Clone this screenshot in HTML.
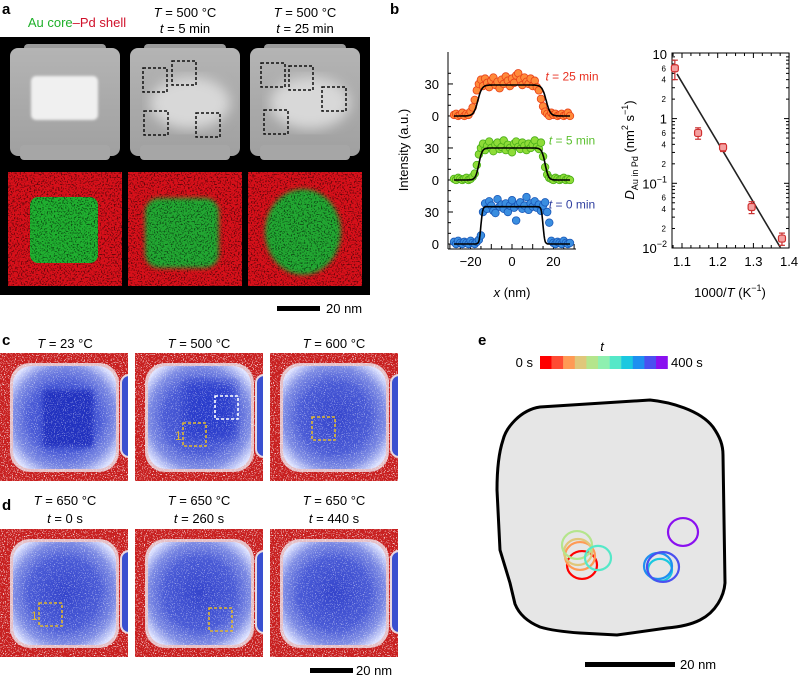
<!DOCTYPE html>
<html><head><meta charset="utf-8"><style>
html,body{margin:0;padding:0;background:#fff;}
svg{display:block;font-family:"Liberation Sans",Arial,sans-serif;}
</style></head><body>
<svg id="fig" width="798" height="676" viewBox="0 0 798 676" xmlns="http://www.w3.org/2000/svg">
<defs>
<filter id="speckW" x="0" y="0" width="1" height="1"><feTurbulence type="fractalNoise" baseFrequency="0.9" numOctaves="1" seed="3"/><feColorMatrix type="matrix" values="0 0 0 0 1 0 0 0 0 1 0 0 0 0 1 9 0 0 0 -5.2"/></filter>
<filter id="speckK" x="0" y="0" width="1" height="1"><feTurbulence type="fractalNoise" baseFrequency="0.7" numOctaves="1" seed="7"/><feColorMatrix type="matrix" values="0 0 0 0 0 0 0 0 0 0 0 0 0 0 0 7 0 0 0 -3.6"/></filter>
<filter id="blur2"><feGaussianBlur stdDeviation="2.5"/></filter>
<filter id="blur1"><feGaussianBlur stdDeviation="1.2"/></filter>
<filter id="blur5"><feGaussianBlur stdDeviation="6"/></filter>
<radialGradient id="blueg" cx="0.5" cy="0.5" r="0.62"><stop offset="0" stop-color="#3444cc"/><stop offset="0.55" stop-color="#4a5bd6"/><stop offset="0.8" stop-color="#7e8ce4"/><stop offset="1" stop-color="#dde2ff"/></radialGradient>
<linearGradient id="grayg" x1="0" y1="0" x2="0" y2="1"><stop offset="0" stop-color="#b4b4b4"/><stop offset="1" stop-color="#a0a0a0"/></linearGradient>
</defs>

<!-- Panel a -->
<g>
<text x="2" y="14" font-size="15" font-weight="bold">a</text>
<text x="77" y="27" font-size="13" text-anchor="middle"><tspan fill="#1fb02a">Au core</tspan><tspan fill="#d0102a">–Pd shell</tspan></text>
<text x="185" y="17" font-size="13" text-anchor="middle"><tspan font-style="italic">T</tspan> = 500 °C</text>
<text x="185" y="33" font-size="13" text-anchor="middle"><tspan font-style="italic">t</tspan> = 5 min</text>
<text x="305" y="17" font-size="13" text-anchor="middle"><tspan font-style="italic">T</tspan> = 500 °C</text>
<text x="305" y="33" font-size="13" text-anchor="middle"><tspan font-style="italic">t</tspan> = 25 min</text>
<rect x="0" y="37" width="370" height="258" fill="#000"/>
<g id="agray"></g>
<g id="amap"></g>
<rect x="277" y="306" width="43" height="5" fill="#000"/>
<text x="326" y="313" font-size="13">20 nm</text>
</g>

<!-- Panel b -->
<g>
<text x="390" y="14" font-size="15" font-weight="bold">b</text>
<g id="profiles"></g>
<g id="arrh"></g>
</g>

<!-- Panels c, d -->
<g>
<text x="2" y="345" font-size="15" font-weight="bold">c</text>
<text x="65" y="348" font-size="13" text-anchor="middle"><tspan font-style="italic">T</tspan> = 23 °C</text>
<text x="199" y="348" font-size="13" text-anchor="middle"><tspan font-style="italic">T</tspan> = 500 °C</text>
<text x="334" y="348" font-size="13" text-anchor="middle"><tspan font-style="italic">T</tspan> = 600 °C</text>
</g>
<g>
<text x="2" y="510" font-size="15" font-weight="bold">d</text>
<text x="65" y="505" font-size="13" text-anchor="middle"><tspan font-style="italic">T</tspan> = 650 °C</text>
<text x="65" y="523" font-size="13" text-anchor="middle"><tspan font-style="italic">t</tspan> = 0 s</text>
<text x="199" y="505" font-size="13" text-anchor="middle"><tspan font-style="italic">T</tspan> = 650 °C</text>
<text x="199" y="523" font-size="13" text-anchor="middle"><tspan font-style="italic">t</tspan> = 260 s</text>
<text x="334" y="505" font-size="13" text-anchor="middle"><tspan font-style="italic">T</tspan> = 650 °C</text>
<text x="334" y="523" font-size="13" text-anchor="middle"><tspan font-style="italic">t</tspan> = 440 s</text>
<rect x="310" y="668" width="43" height="5" fill="#000"/>
<text x="356" y="675" font-size="13">20 nm</text>
</g>
<g id="cdimgs"></g>

<!-- Panel e -->
<g>
<text x="478" y="345" font-size="15" font-weight="bold">e</text>
<text x="602" y="351" font-size="13" font-style="italic" text-anchor="middle">t</text>
<text x="533" y="367" font-size="13" text-anchor="end">0 s</text>
<text x="671" y="367" font-size="13">400 s</text>
<g id="cbar"></g>
<path d="M503,440 C506,428 520,410 540,407 L650,400 C670,402 700,410 713,427 C720,437 723,445 723,455 L725,583 C724,596 716,612 700,620 C690,625 680,627 667,628 L617,635 L580,633 C565,632 550,630 540,627 C528,622 519,614 515,604 L510,583 L500,550 L497,490 C497,470 499,452 503,440 Z" fill="#e6e6e6" stroke="#000" stroke-width="3"/>
<g id="loops"></g>
<rect x="585" y="662" width="90" height="5" fill="#000"/>
<text x="680" y="669" font-size="13">20 nm</text>
</g>
</svg>
<script>
const NS="http://www.w3.org/2000/svg";
function mk(tag,attrs,parent){const e=document.createElementNS(NS,tag);for(const k in attrs)e.setAttribute(k,attrs[k]);if(parent)parent.appendChild(e);return e;}

// ---------- Panel a images ----------
const agray=document.getElementById('agray');
const amap=document.getElementById('amap');
const aCols=[8,128,248];
aCols.forEach((x0,i)=>{
  const g=mk('g',{},agray);
  
  
  mk('rect',{x:x0+16,y:44,width:82,height:10,rx:4,fill:'#9a9a9a'},g);
  mk('rect',{x:x0+2,y:48,width:110,height:108,rx:8,fill:'url(#grayg)'},g);
  mk('rect',{x:x0+12,y:145,width:90,height:15,rx:4,fill:'#a6a6a6'},g);
  if(i===0){mk('rect',{x:x0+23,y:76,width:67,height:44,rx:5,fill:'#f0f0f0',filter:'url(#blur1)'},g);}
  else{mk('ellipse',{cx:x0+62,cy:103,rx:40,ry:26,fill:'#d8d8d8',filter:'url(#blur5)'},g);}
  const m=mk('g',{},amap);
  
  
  mk('rect',{x:x0,y:172,width:114,height:114,fill:'#d8101a'},m);
  if(i===0)mk('rect',{x:x0+22,y:197,width:68,height:66,rx:8,fill:'#20b030'},m);
  else if(i===1)mk('rect',{x:x0+17,y:198,width:74,height:70,rx:14,fill:'#20a830',filter:'url(#blur2)'},m);
  else mk('ellipse',{cx:x0+55,cy:232,rx:38,ry:43,fill:'#20a830',filter:'url(#blur2)'},m);
  mk('rect',{x:x0,y:172,width:114,height:114,fill:'#000',filter:'url(#speckK)',opacity:0.5},m);
});
const aBoxes=[[143,68],[172,61],[144,111],[196,113],[261,63],[289,66],[322,87],[264,110]];
aBoxes.forEach((b,i)=>{
  const r=mk('rect',{x:b[0],y:b[1],width:24,height:24,fill:'none',stroke:'#111','stroke-width':1.5,'stroke-dasharray':'3,2'},agray);
  
  
});

// ---------- Panel b profiles ----------
const profXStart=-28;
const blueVals=[2,0,3,1,0,2,1,0,3,1,0,2,4,8,30,38,33,40,36,31,29,42,35,37,33,38,30,36,41,34,22,37,39,33,36,44,32,38,35,40,34,37,31,36,39,30,20,3,1,0,2,1,0,3,1,0,1];
const greenVals=[1,0,2,1,0,1,2,0,1,3,6,14,24,30,34,28,32,36,30,27,33,35,29,31,37,28,33,30,26,34,36,31,29,35,32,28,34,30,33,37,31,29,35,22,12,5,2,1,0,2,1,0,1,2,0,1,0];
const redVals=[1,2,0,1,3,0,2,1,4,8,15,24,30,34,28,35,31,27,33,36,29,32,26,34,30,37,33,28,35,31,38,40,34,29,36,32,30,35,28,33,27,24,16,9,4,2,0,3,1,2,0,1,2,0,1,3,0];
const fitPlateaus=[35,30,29];
const fitHalfWidths=[15,16,16.5];
const fitEdgeWidths=[0.8,1.6,2.0];
const seriesOffsets=[0,60,120];
const seriesLabels=['t = 0 min','t = 5 min','t = 25 min'];
const yTickVals=[0,30];
const xTickVals=[-20,0,20];
const pX=v=>512+v*2.07;
const pY=v=>244-v*1.067;
const prof=document.getElementById('profiles');
mk('line',{x1:448,y1:52,x2:448,y2:249,stroke:'#000','stroke-width':1},prof);
mk('line',{x1:448,y1:249,x2:576,y2:249,stroke:'#000','stroke-width':1},prof);
for(let v=0;v<=165;v+=10){mk('line',{x1:448,x2:v%30===0?453:451,y1:pY(v),y2:pY(v),stroke:'#000'},prof);}
seriesOffsets.forEach(o=>yTickVals.forEach(v=>{
  const t=mk('text',{x:439,y:pY(v+o)+5,'font-size':13,'text-anchor':'end'},prof);
  t.textContent=v;
  
  
}));
for(let v=-30;v<=30;v+=5){mk('line',{x1:pX(v),x2:pX(v),y1:249,y2:v%10===0?244:246,stroke:'#000'},prof);}
xTickVals.forEach(v=>{
  const t=mk('text',{x:pX(v),y:266,'font-size':13,'text-anchor':'middle'},prof);
  t.textContent=v<0?'−'+(-v):v;
  
  
});
{const t=mk('text',{x:512,y:297,'font-size':13,'text-anchor':'middle'},prof);t.innerHTML='<tspan font-style="italic">x</tspan> (nm)';}
{const t=mk('text',{x:0,y:0,'font-size':13,'text-anchor':'middle',transform:'translate(408,150) rotate(-90)'},prof);t.textContent='Intensity (a.u.)';}
const sFill=['#3a8ee0','#8edc38','#ff8a3a'];
const sStroke=['#1a58b8','#4aae18','#e84018'];
const sText=['#3040a0','#5cc030','#e83020'];
[blueVals,greenVals,redVals].forEach((vals,si)=>{
  const g=mk('g',{},prof);
  
  
  vals.forEach((v,i)=>{
    const c=mk('circle',{cx:pX(profXStart+i),cy:pY(v+seriesOffsets[si]),r:3.8,fill:sFill[si],stroke:sStroke[si],'stroke-width':0.8},g);
    
    
  });
  let d='';
  for(let x=-28;x<=28;x+=0.25){
    const w=fitEdgeWidths[si],h=fitHalfWidths[si];
    const f=fitPlateaus[si]*0.5*(Math.tanh((x+h)/w)-Math.tanh((x-h)/w));
    d+=(d?'L':'M')+pX(x).toFixed(1)+','+pY(f+seriesOffsets[si]).toFixed(1);
  }
  const p=mk('path',{d:d,fill:'none',stroke:'#000','stroke-width':1.6},g);
  
  
  const t=mk('text',{x:572,y:pY(seriesOffsets[si]+38)+5,'font-size':12,'text-anchor':'middle',fill:sText[si]},g);
  t.innerHTML='<tspan font-style="italic">t</tspan>'+seriesLabels[si].slice(1);
  
  
});

// ---------- Panel b Arrhenius ----------
const arrX=[1.08,1.145,1.215,1.295,1.38];
const arrD=[6.0,0.6,0.36,0.043,0.014];
const arrErr=[2.0,0.12,0.05,0.009,0.003];
const fitX=[1.086,1.3745];
const fitD=[4.9,0.0104];
const arrXTicks=[1.1,1.2,1.3,1.4];
const arrMajor=[10,1,0.1,0.01];
const arrMajorLabels=['10','1','10−1','10−2'];
const aX=v=>682+(v-1.1)*357;
const aY=v=>248-(Math.log10(v)+2)*64.7;
const ar=document.getElementById('arrh');
{const r=mk('rect',{x:672,y:53,width:117,height:195,fill:'none',stroke:'#000','stroke-width':1},ar);}
for(let e=-2;e<1;e++)for(let m=1;m<10;m++){
  const v=m*Math.pow(10,e),y=aY(v),L=m===1?5:3;
  mk('line',{x1:672,x2:672+L,y1:y,y2:y,stroke:'#000'},ar);
  mk('line',{x1:789,x2:789-L,y1:y,y2:y,stroke:'#000'},ar);
  if(m===2||m===4||m===6){const t=mk('text',{x:666,y:y+3,'font-size':8,'text-anchor':'end'},ar);t.textContent=m;}
}
arrMajor.forEach((v,i)=>{
  const t=mk('text',{x:667,y:aY(v)+5,'font-size':13,'text-anchor':'end'},ar);
  const lab=arrMajorLabels[i];
  t.innerHTML=lab.length>2?'10<tspan font-size="9" dy="-6">'+lab.slice(2)+'</tspan>':lab;
  
  
});
for(let v=1.075;v<=1.401;v+=0.025){const x=aX(v);const big=Math.abs(v*10-Math.round(v*10))<0.01;mk('line',{x1:x,x2:x,y1:248,y2:big?243:245,stroke:'#000'},ar);mk('line',{x1:x,x2:x,y1:53,y2:big?58:56,stroke:'#000'},ar);}
arrXTicks.forEach(v=>{
  const t=mk('text',{x:aX(v),y:266,'font-size':13,'text-anchor':'middle'},ar);
  t.textContent=v.toFixed(1);
  
  
});
{const t=mk('text',{x:730,y:297,'font-size':13,'text-anchor':'middle'},ar);t.innerHTML='1000/<tspan font-style="italic">T</tspan> (K<tspan font-size="9" dy="-6">−1</tspan><tspan dy="6">)</tspan>';}
{const t=mk('text',{x:0,y:0,'font-size':13,'text-anchor':'middle',transform:'translate(634,150) rotate(-90)'},ar);t.innerHTML='<tspan font-style="italic">D</tspan><tspan font-size="9" dy="4">Au in Pd</tspan><tspan dy="-4"> (nm</tspan><tspan font-size="9" dy="-6">2</tspan><tspan dy="6"> s</tspan><tspan font-size="9" dy="-6">−1</tspan><tspan dy="6">)</tspan>';}
{const l=mk('line',{x1:aX(fitX[0]),y1:aY(fitD[0]),x2:aX(fitX[1]),y2:aY(fitD[1]),stroke:'#222','stroke-width':1.6},ar);}
arrX.forEach((xv,i)=>{
  const x=aX(xv),y=aY(arrD[i]),y1=aY(arrD[i]+arrErr[i]),y2=aY(Math.max(arrD[i]-arrErr[i],1e-3));
  const g=mk('g',{},ar);
  
  
  mk('line',{x1:x,x2:x,y1:y1,y2:y2,stroke:'#c83030','stroke-width':1.2},g);
  mk('line',{x1:x-3,x2:x+3,y1:y1,y2:y1,stroke:'#c83030','stroke-width':1.2},g);
  mk('line',{x1:x-3,x2:x+3,y1:y2,y2:y2,stroke:'#c83030','stroke-width':1.2},g);
  mk('rect',{x:x-3.5,y:y-3.5,width:7,height:7,rx:2,fill:'#f4a0a0',stroke:'#d03030','stroke-width':1.2},g);
});

// ---------- Panels c/d images ----------
const cd=document.getElementById('cdimgs');
const cdCols=[0,135,270];
const cdRows=[353,529];
let n=0;
cdRows.forEach((y0,ri)=>cdCols.forEach((x0,ci)=>{
  n++;
  const g=mk('g',{},cd);
  
  
  const cid='clipcd'+n;
  const cp=mk('clipPath',{id:cid},g);mk('rect',{x:x0,y:y0,width:128,height:128},cp);
  const gg=mk('g',{'clip-path':'url(#'+cid+')'},g);
  mk('rect',{x:x0,y:y0,width:128,height:128,fill:'#c82020'},gg);
  mk('rect',{x:x0,y:y0,width:128,height:128,fill:'#fff',filter:'url(#speckW)',opacity:0.85},gg);
  mk('rect',{x:x0+121,y:y0+22,width:18,height:82,rx:8,fill:'#3a50d0',stroke:'#e8d8e0','stroke-width':2},gg);
  mk('rect',{x:x0+10,y:y0+10,width:109,height:109,rx:20,fill:'#e8d0d8',opacity:0.9},gg);
  mk('rect',{x:x0+13,y:y0+13,width:103,height:103,rx:18,fill:'url(#blueg)'},gg);
  if(ri===0&&ci===0)mk('rect',{x:x0+43,y:y0+37,width:50,height:57,rx:3,fill:'#2230c0',filter:'url(#blur2)'},gg);
  if(ri===0&&ci===1)mk('rect',{x:x0+50,y:y0+30,width:50,height:55,fill:'#2c3ccc',filter:'url(#blur5)'},gg);
  mk('rect',{x:x0+10,y:y0+10,width:109,height:109,rx:20,fill:'#fff',filter:'url(#speckW)',opacity:0.45},gg);
}));
const cdBoxes=[[215,396,'#fff',''],[183,423,'#e0b830','1'],[312,417,'#e0b830',''],[39,603,'#e0b830','1'],[209,608,'#e0b830','']];
cdBoxes.forEach((b,i)=>{
  const r=mk('rect',{x:b[0],y:b[1],width:23,height:23,fill:'none',stroke:b[2],'stroke-width':1.6,'stroke-dasharray':'3,2'},cd);
  
  
  if(b[3]){const t=mk('text',{x:b[0]-8,y:b[1]+17,'font-size':12,fill:'#e0b830'},cd);t.textContent=b[3];}
});

// ---------- Panel e ----------
const cbarColors=['#ff0000','#ff4b33','#ff9a55','#e0c77a','#b4e58c','#8ef0b0','#55e8c8','#1ac8e0','#1e8ff0','#4a50f0','#8a10f0'];
const cb=document.getElementById('cbar');
cbarColors.forEach((c,i)=>{
  const r=mk('rect',{x:540+i*11.6,y:356,width:11.8,height:13,fill:c},cb);
  
  
});
const loopCx=[582,580,578,577,598,660,658,663,683];
const loopCy=[565,556,552,545,558,570,566,567,532];
const loopR=[15,15,14,15,13,12,14,16,15];
const loopColorIdx=[0,2,3,4,6,7,8,9,10];
const lp=document.getElementById('loops');
loopCx.forEach((cx,i)=>{
  const c=mk('ellipse',{cx:cx,cy:loopCy[i],rx:loopR[i],ry:loopR[i]*0.93,fill:'none',stroke:cbarColors[loopColorIdx[i]],'stroke-width':2.2},lp);
  
  
});
</script>
</body></html>
